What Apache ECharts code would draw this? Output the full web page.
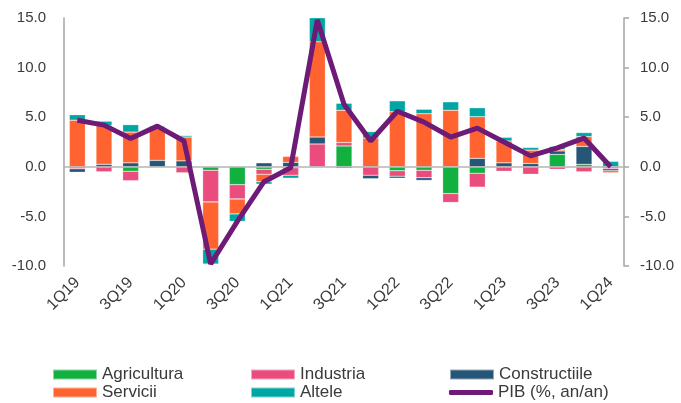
<!DOCTYPE html>
<html>
<head>
<meta charset="utf-8">
<script src="https://cdn.jsdelivr.net/npm/echarts@6/dist/echarts.min.js"></script>
<style>
  html, body { margin: 0; padding: 0; background: #fff; }
  #chart { width: 681px; height: 403px; }
</style>
</head>
<body>
<div id="chart"></div>
<script>
const quarters = ['1Q19', '2Q19', '3Q19', '4Q19', '1Q20', '2Q20', '3Q20', '4Q20', '1Q21', '2Q21', '3Q21',
  '4Q21', '1Q22', '2Q22', '3Q22', '4Q22', '1Q23', '2Q23', '3Q23', '4Q23', '1Q24'];

const agricultura = [0, 0, -0.45, 0, 0, -0.35, -1.8, -0.25, -0.1, 0, 2.1, 0, -0.4, -0.35, -2.7, -0.65, 0, 0, 1.25, 0.25, 0];
const industria = [-0.2, -0.5, -0.95, 0, -0.6, -3.2, -1.45, -0.5, -0.75, 2.3, 0.35, -0.85, -0.55, -0.75, -0.9, -1.4, -0.45, -0.75, -0.25, -0.5, -0.2];
const constructiile = [-0.35, 0.25, 0.4, 0.65, 0.6, 0, 0, 0.4, 0.45, 0.7, -0.15, -0.35, -0.2, -0.27, 0, 0.85, 0.4, 0.33, 0.35, 1.8, -0.2];
const servicii = [4.7, 3.9, 3.1, 3.35, 2.4, -4.75, -1.5, -0.75, 0.6, 9.6, 3.25, 2.9, 5.55, 5.35, 5.7, 4.2, 2.2, 1.35, 0.15, 1.0, -0.2];
const altele = [0.55, 0.45, 0.75, 0.1, 0.15, -1.5, -0.75, -0.25, -0.3, 2.6, 0.7, 0.65, 1.1, 0.45, 0.85, 0.9, 0.37, 0.27, 0.3, 0.4, 0.55];
const pib = [4.7, 4.2, 2.85, 4.1, 2.6, -9.8, -5.5, -1.5, -0.1, 14.8, 6.3, 2.6, 5.6, 4.5, 3.0, 3.9, 2.5, 1.1, 1.9, 2.9, 0.0];

const FONT = 'Liberation Sans, Arial, sans-serif';
const TXT = '#3a3a3a';

const myChart = echarts.init(document.getElementById('chart'));

// bara stivuita
const bar = (name, data, color) => ({
  name: name,
  type: 'bar',
  stack: 'pib',
  data: data,
  barWidth: 16,
  itemStyle: { color: color, borderColor: 'rgba(255,255,255,0.5)', borderWidth: 0.5 }
});

const yAxisBase = {
  type: 'value',
  min: -10,
  max: 15,
  interval: 5,
  splitLine: { show: false },
  axisLine: { show: true, lineStyle: { color: '#a6a6a6', width: 1.5 } },
  axisLabel: { color: TXT, fontSize: 15, fontFamily: FONT, formatter: v => v.toFixed(1) }
};

const legendBase = {
  orient: 'vertical',
  top: 366,
  height: 60,
  itemWidth: 44,
  itemHeight: 10,
  itemGap: 1,
  icon: 'rect',
  padding: 0,
  textStyle: { color: TXT, fontSize: 17, fontFamily: FONT },
  selectedMode: false
};

const option = {
  animation: false,
  grid: { left: 64, right: 57, top: 18, bottom: 137, containLabel: false },
  legend: [
    Object.assign({}, legendBase, { left: 52, data: ['Agricultura', 'Servicii'] }),
    Object.assign({}, legendBase, { left: 250, data: ['Industria', 'Altele'] }),
    Object.assign({}, legendBase, { left: 449, data: ['Constructiile'] }),
    Object.assign({}, legendBase, { left: 449, top: 384, itemHeight: 5, icon: 'roundRect', data: ['PIB (%, an/an)'] })
  ],
  xAxis: {
    type: 'category',
    data: quarters,
    axisLine: { show: false },
    axisTick: { show: false },
    axisLabel: { interval: 1, rotate: 45, margin: 14, color: TXT, fontSize: 16, fontFamily: FONT }
  },
  yAxis: [
    Object.assign({}, yAxisBase, {
      position: 'left',
      axisTick: { show: false },
      axisLabel: Object.assign({}, yAxisBase.axisLabel, { margin: 18 })
    }),
    Object.assign({}, yAxisBase, {
      position: 'right',
      axisTick: { show: true, inside: false, length: 5, lineStyle: { color: '#a6a6a6', width: 1.5 } },
      axisLabel: Object.assign({}, yAxisBase.axisLabel, { margin: 16 })
    })
  ],
  series: [
    Object.assign(bar('Agricultura', agricultura, '#12b03f'), {
      markLine: {
        silent: true,
        symbol: 'none',
        label: { show: false },
        lineStyle: { color: '#b4b4b4', width: 1.5, type: 'solid' },
        data: [{ yAxis: 0 }]
      }
    }),
    bar('Industria', industria, '#ea4c7d'),
    bar('Constructiile', constructiile, '#255577'),
    bar('Servicii', servicii, '#ff6330'),
    bar('Altele', altele, '#00a6a3'),
    {
      name: 'PIB (%, an/an)',
      type: 'line',
      data: pib,
      symbol: 'none',
      z: 10,
      itemStyle: { color: '#6d1b77' },
      lineStyle: { color: '#6d1b77', width: 5 }
    }
  ]
};

option && myChart.setOption(option);
</script>
</body>
</html>
